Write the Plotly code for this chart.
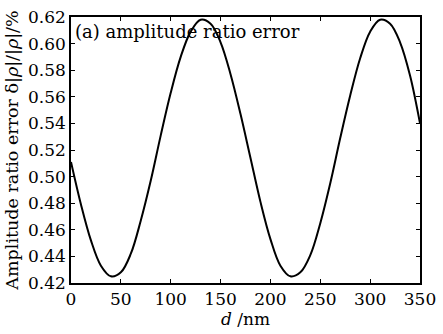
import plotly.graph_objects as go

# thickness d (nm) and amplitude ratio error (%)
d_nm = [0, 10, 20, 30, 40, 50, 60, 70, 80, 90, 100, 110, 120, 130, 140, 150, 160, 170,
        180, 190, 200, 210, 220, 230, 240, 250, 260, 270, 280, 290, 300, 310, 320, 330,
        340, 350]
amp_err = [0.511, 0.479, 0.452, 0.433, 0.425, 0.428, 0.442, 0.467, 0.497, 0.531, 0.563,
           0.590, 0.609, 0.618, 0.615, 0.601, 0.577, 0.547, 0.514, 0.481, 0.453, 0.433,
           0.425, 0.428, 0.441, 0.465, 0.495, 0.529, 0.561, 0.589, 0.609, 0.618, 0.615,
           0.601, 0.576, 0.540]

x_ticks = [0, 50, 100, 150, 200, 250, 300, 350]
y_ticks = [0.42, 0.44, 0.46, 0.48, 0.50, 0.52, 0.54, 0.56, 0.58, 0.60, 0.62]

FONT = "DejaVu Serif, Liberation Serif, serif"

fig = go.Figure()
fig.add_trace(go.Scatter(x=d_nm, y=amp_err, mode="lines",
                         line=dict(color="black", width=2, shape="spline", smoothing=1.0),
                         showlegend=False))

axis_common = dict(showgrid=False, zeroline=False, showline=True, linecolor="black",
                   linewidth=1.5, mirror="ticks", ticks="inside", ticklen=4,
                   tickcolor="black", tickwidth=1, ticklabeloverflow="allow",
                   tickfont=dict(family=FONT, size=17, color="black"))

fig.update_xaxes(range=[0, 350], tickvals=x_ticks, ticktext=[str(v) for v in x_ticks],
                 title=dict(text="<i>d</i> /nm", font=dict(family=FONT, size=17, color="black"),
                            standoff=2),
                 **axis_common)
fig.update_yaxes(range=[0.42, 0.62], tickvals=y_ticks, ticktext=[f"{v:.2f}" for v in y_ticks],
                 title=dict(text="Amplitude ratio error δ|<i>ρ</i>|/|<i>ρ</i>|/%",
                            font=dict(family=FONT, size=17.5, color="black"), standoff=5),
                 **axis_common)

fig.add_annotation(x=0, y=1, xref="paper", yref="paper", xanchor="left", yanchor="top",
                   xshift=2, yshift=-2,
                   text="(a) amplitude ratio error", showarrow=False,
                   font=dict(family=FONT, size=18, color="black"))

fig.update_layout(width=443, height=334, margin=dict(l=71, r=12, t=7, b=51),
                  plot_bgcolor="white", paper_bgcolor="white")

fig.write_html("out.html")
